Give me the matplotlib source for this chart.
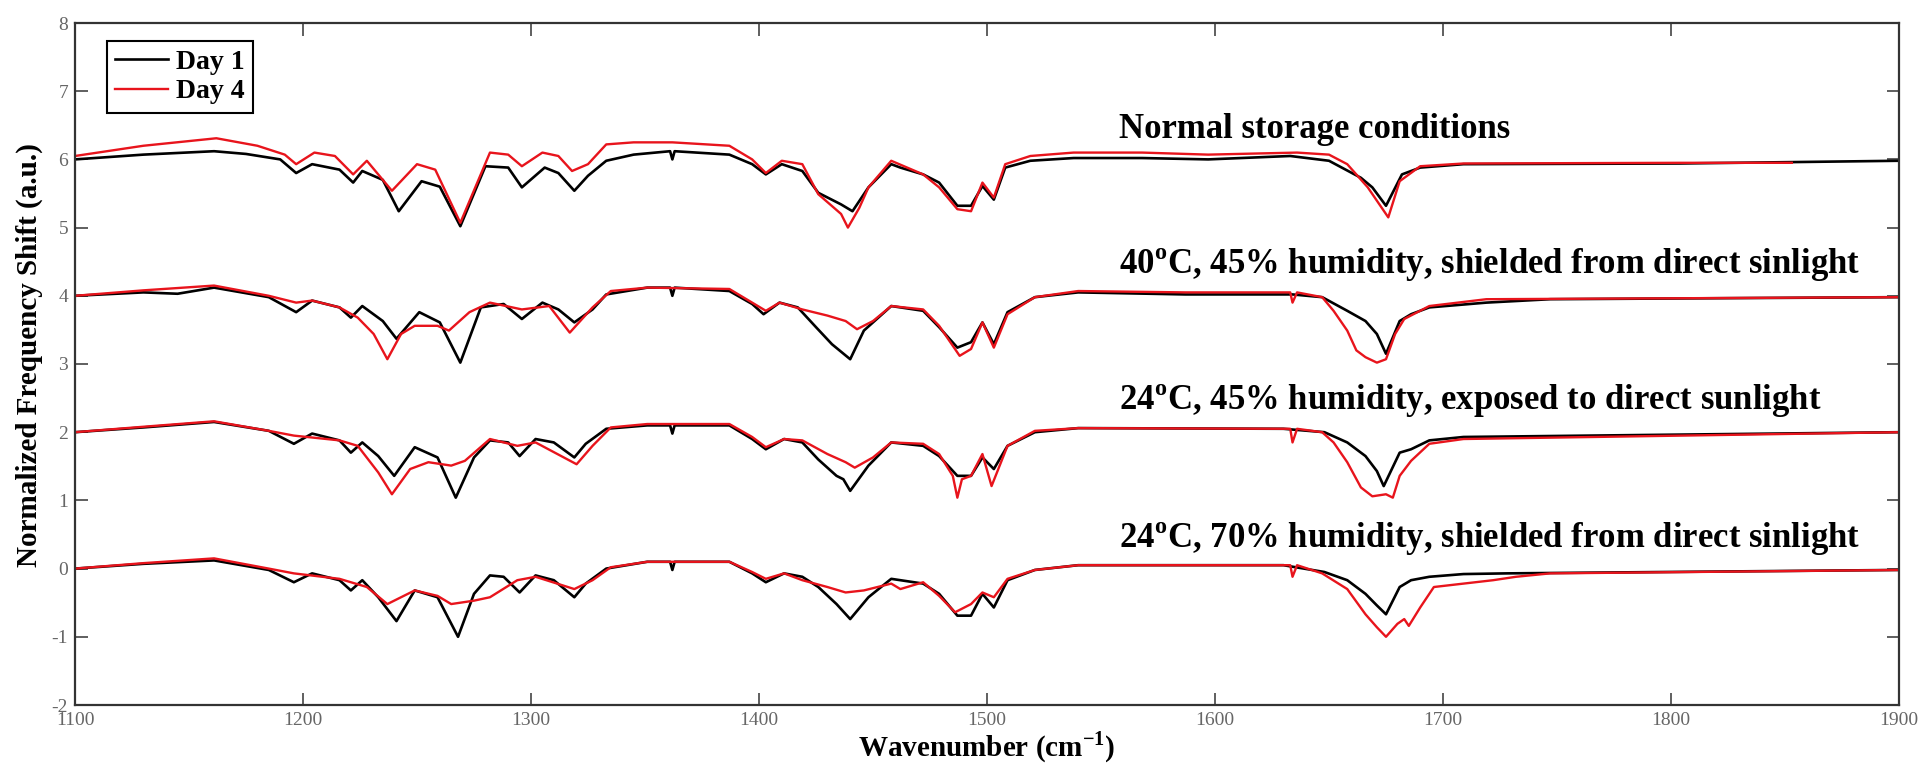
import numpy as np
import matplotlib
matplotlib.use("Agg")
import matplotlib.pyplot as plt

plt.rcParams['font.family'] = ['Liberation Serif', 'DejaVu Serif']
plt.rcParams['mathtext.fontset'] = 'custom'
plt.rcParams['mathtext.rm'] = 'Liberation Serif:bold'
plt.rcParams['mathtext.bf'] = 'Liberation Serif:bold'
plt.rcParams['axes.unicode_minus'] = False

# Normal storage conditions
wn_normal_d1 = [1100, 1130, 1161, 1175, 1190, 1197, 1204, 1216, 1222, 1226, 1235, 1242, 1252, 1260, 1269,
                1280, 1290, 1296, 1306, 1312, 1319, 1325, 1333, 1345, 1361, 1362, 1363, 1387, 1397, 1403,
                1410, 1419, 1426, 1436, 1441, 1448, 1458, 1462, 1472, 1479, 1487, 1493, 1498, 1503, 1508,
                1519, 1538, 1568, 1597, 1633, 1650, 1664, 1669, 1675, 1682, 1690, 1709, 1804, 1900]
val_normal_d1 = [6.00, 6.07, 6.12, 6.08, 6.00, 5.80, 5.93, 5.85, 5.66, 5.83, 5.70, 5.24, 5.68, 5.60, 5.02,
                 5.90, 5.88, 5.59, 5.88, 5.80, 5.54, 5.76, 5.98, 6.07, 6.12, 6.00, 6.12, 6.07, 5.93, 5.78,
                 5.93, 5.83, 5.51, 5.34, 5.24, 5.59, 5.93, 5.88, 5.78, 5.66, 5.32, 5.32, 5.61, 5.41, 5.88,
                 5.98, 6.02, 6.02, 6.00, 6.05, 5.98, 5.73, 5.59, 5.32, 5.78, 5.88, 5.93, 5.94, 5.98]
wn_normal_d4 = [1100, 1130, 1162, 1180, 1192, 1197, 1205, 1214, 1222, 1228, 1239, 1250, 1258, 1269, 1282,
                1290, 1296, 1305, 1312, 1318, 1325, 1333, 1345, 1362, 1387, 1397, 1403, 1410, 1419, 1426,
                1436, 1439, 1444, 1448, 1458, 1472, 1479, 1487, 1493, 1498, 1503, 1508, 1519, 1538, 1568,
                1597, 1636, 1650, 1658, 1667, 1676, 1681, 1690, 1709, 1804, 1853]
val_normal_d4 = [6.05, 6.20, 6.31, 6.20, 6.07, 5.93, 6.10, 6.05, 5.78, 5.98, 5.54, 5.93, 5.85, 5.07, 6.10,
                 6.07, 5.90, 6.10, 6.05, 5.83, 5.93, 6.22, 6.25, 6.25, 6.20, 6.00, 5.80, 5.98, 5.93, 5.49,
                 5.20, 5.00, 5.29, 5.59, 5.98, 5.78, 5.59, 5.27, 5.24, 5.66, 5.44, 5.93, 6.05, 6.10, 6.10,
                 6.07, 6.10, 6.07, 5.93, 5.59, 5.15, 5.68, 5.90, 5.94, 5.95, 5.95]

# 40 C, 45% humidity, shielded
wn_40_d1 = [1100, 1130, 1145, 1161, 1185, 1197, 1204, 1216, 1221, 1226, 1235, 1241, 1251, 1260, 1269,
            1278, 1288, 1296, 1305, 1312, 1319, 1327, 1333, 1351, 1361, 1362, 1363, 1387, 1397, 1402,
            1409, 1417, 1425, 1432, 1440, 1446, 1458, 1472, 1479, 1487, 1493, 1498, 1503, 1509, 1521,
            1540, 1587, 1634, 1647, 1658, 1666, 1671, 1675, 1681, 1686, 1694, 1719, 1747, 1900]
val_40_d1 = [4.00, 4.05, 4.03, 4.12, 3.98, 3.76, 3.93, 3.83, 3.68, 3.85, 3.63, 3.37, 3.76, 3.61, 3.02,
             3.83, 3.88, 3.66, 3.90, 3.80, 3.61, 3.80, 4.02, 4.12, 4.12, 4.00, 4.12, 4.07, 3.88, 3.73,
             3.90, 3.83, 3.54, 3.29, 3.07, 3.49, 3.85, 3.78, 3.54, 3.24, 3.32, 3.61, 3.29, 3.76, 3.98,
             4.05, 4.02, 4.02, 3.98, 3.78, 3.63, 3.44, 3.15, 3.63, 3.73, 3.83, 3.90, 3.95, 3.98]
wn_40_d4 = [1100, 1130, 1161, 1185, 1197, 1204, 1216, 1224, 1231, 1237, 1243, 1249, 1259, 1264, 1273,
            1282, 1296, 1308, 1317, 1327, 1335, 1351, 1387, 1397, 1403, 1409, 1419, 1430, 1438, 1443,
            1450, 1458, 1472, 1479, 1488, 1493, 1498, 1503, 1509, 1521, 1540, 1587, 1633, 1634, 1636,
            1647, 1652, 1658, 1662, 1666, 1671, 1675, 1679, 1683, 1694, 1719, 1900]
val_40_d4 = [4.00, 4.08, 4.15, 4.00, 3.90, 3.93, 3.83, 3.68, 3.44, 3.07, 3.44, 3.56, 3.56, 3.49, 3.76,
             3.90, 3.80, 3.85, 3.46, 3.83, 4.07, 4.12, 4.10, 3.90, 3.78, 3.90, 3.80, 3.71, 3.63, 3.51,
             3.63, 3.85, 3.80, 3.56, 3.12, 3.22, 3.61, 3.24, 3.73, 3.98, 4.07, 4.05, 4.05, 3.90, 4.05,
             3.98, 3.78, 3.49, 3.20, 3.10, 3.02, 3.07, 3.44, 3.66, 3.85, 3.95, 3.98]

# 24 C, 45% humidity, exposed
wn_24s_d1 = [1100, 1130, 1161, 1185, 1196, 1204, 1216, 1221, 1226, 1233, 1240, 1249, 1259, 1267, 1275,
             1282, 1290, 1295, 1302, 1310, 1319, 1324, 1333, 1351, 1361, 1362, 1363, 1387, 1397, 1403,
             1411, 1419, 1426, 1434, 1437, 1440, 1448, 1458, 1472, 1479, 1487, 1493, 1498, 1503, 1509,
             1521, 1540, 1630, 1648, 1658, 1666, 1671, 1674, 1681, 1686, 1694, 1709, 1900]
val_24s_d1 = [2.00, 2.07, 2.15, 2.02, 1.83, 1.98, 1.88, 1.70, 1.85, 1.65, 1.36, 1.78, 1.63, 1.04, 1.63,
              1.88, 1.85, 1.65, 1.90, 1.85, 1.63, 1.83, 2.05, 2.10, 2.10, 1.98, 2.10, 2.10, 1.90, 1.75,
              1.90, 1.85, 1.60, 1.36, 1.31, 1.14, 1.51, 1.85, 1.80, 1.65, 1.36, 1.36, 1.63, 1.46, 1.80,
              2.00, 2.06, 2.05, 2.00, 1.85, 1.65, 1.43, 1.21, 1.70, 1.75, 1.88, 1.93, 2.00]
wn_24s_d4 = [1100, 1130, 1161, 1185, 1196, 1216, 1224, 1233, 1239, 1247, 1255, 1265, 1271, 1282, 1294,
             1302, 1320, 1327, 1335, 1351, 1387, 1397, 1403, 1411, 1419, 1430, 1438, 1442, 1450, 1458,
             1472, 1479, 1485, 1487, 1489, 1493, 1498, 1502, 1509, 1521, 1540, 1633, 1634, 1636, 1647,
             1652, 1658, 1664, 1669, 1675, 1678, 1681, 1686, 1694, 1709, 1900]
val_24s_d4 = [2.00, 2.08, 2.16, 2.02, 1.95, 1.88, 1.80, 1.41, 1.09, 1.46, 1.56, 1.51, 1.58, 1.90, 1.80,
              1.85, 1.53, 1.80, 2.07, 2.12, 2.12, 1.93, 1.78, 1.90, 1.88, 1.68, 1.56, 1.48, 1.63, 1.85,
              1.83, 1.68, 1.36, 1.04, 1.31, 1.36, 1.68, 1.21, 1.80, 2.02, 2.06, 2.05, 1.85, 2.05, 2.00,
              1.85, 1.56, 1.19, 1.06, 1.09, 1.04, 1.36, 1.58, 1.83, 1.90, 2.00]

# 24 C, 70% humidity, shielded
wn_24h_d1 = [1100, 1130, 1161, 1185, 1196, 1204, 1216, 1221, 1226, 1233, 1241, 1249, 1259, 1268, 1275,
             1282, 1288, 1295, 1302, 1310, 1319, 1324, 1333, 1351, 1361, 1362, 1363, 1387, 1397, 1403,
             1411, 1419, 1426, 1434, 1440, 1448, 1458, 1462, 1472, 1479, 1487, 1493, 1498, 1503, 1509,
             1521, 1540, 1630, 1648, 1658, 1666, 1671, 1675, 1681, 1686, 1694, 1709, 1728, 1900]
val_24h_d1 = [0.00, 0.07, 0.12, -0.02, -0.20, -0.07, -0.17, -0.32, -0.17, -0.42, -0.77, -0.32, -0.42, -1.00, -0.37,
              -0.10, -0.12, -0.35, -0.10, -0.17, -0.42, -0.22, 0.00, 0.10, 0.10, -0.02, 0.10, 0.10, -0.07, -0.20,
              -0.07, -0.12, -0.27, -0.52, -0.74, -0.42, -0.15, -0.17, -0.22, -0.37, -0.69, -0.69, -0.37, -0.57, -0.17,
              -0.02, 0.05, 0.05, -0.05, -0.17, -0.37, -0.54, -0.67, -0.27, -0.17, -0.12, -0.08, -0.07, -0.02]
wn_24h_d4 = [1100, 1130, 1161, 1185, 1196, 1216, 1228, 1237, 1249, 1259, 1265, 1275, 1282, 1294, 1302,
             1319, 1327, 1335, 1351, 1387, 1397, 1403, 1411, 1419, 1430, 1438, 1446, 1458, 1462, 1472,
             1479, 1486, 1493, 1498, 1503, 1509, 1521, 1540, 1633, 1634, 1636, 1647, 1658, 1666, 1671,
             1675, 1680, 1683, 1685, 1690, 1696, 1709, 1722, 1732, 1747, 1900]
val_24h_d4 = [0.00, 0.08, 0.15, 0.00, -0.07, -0.15, -0.27, -0.52, -0.32, -0.40, -0.52, -0.47, -0.42, -0.17, -0.12,
              -0.30, -0.17, 0.02, 0.10, 0.10, -0.05, -0.15, -0.07, -0.17, -0.27, -0.35, -0.32, -0.22, -0.30, -0.20,
              -0.40, -0.64, -0.52, -0.35, -0.42, -0.15, -0.02, 0.05, 0.05, -0.12, 0.05, -0.07, -0.30, -0.67, -0.86,
              -1.00, -0.81, -0.74, -0.84, -0.57, -0.27, -0.22, -0.17, -0.12, -0.07, -0.02]

labels = ['Normal storage conditions',
          r'40$^{\mathbf{o}}$C, 45% humidity, shielded from direct sinlight',
          r'24$^{\mathbf{o}}$C, 45% humidity, exposed to direct sunlight',
          r'24$^{\mathbf{o}}$C, 70% humidity, shielded from direct sinlight']
label_y = [6.32, 4.32, 2.32, 0.30]

fig = plt.figure(figsize=(19.23, 7.67), dpi=100)
ax = fig.add_axes([75 / 1923, 1 - 705 / 767, 1824 / 1923, 682 / 767])

pairs = [(wn_normal_d1, val_normal_d1, wn_normal_d4, val_normal_d4),
         (wn_40_d1, val_40_d1, wn_40_d4, val_40_d4),
         (wn_24s_d1, val_24s_d1, wn_24s_d4, val_24s_d4),
         (wn_24h_d1, val_24h_d1, wn_24h_d4, val_24h_d4)]
for i, (x1, y1, x4, y4) in enumerate(pairs):
    ax.plot(x1, y1, color='black', lw=1.9, label='Day 1' if i == 0 else None)
    ax.plot(x4, y4, color='#e8141c', lw=1.7, label='Day 4' if i == 0 else None)

for txt, yy in zip(labels, label_y):
    ax.text(1558, yy, txt, fontsize=25, fontweight='bold', ha='left', va='baseline')

ax.set_xlim(1100, 1900)
ax.set_ylim(-2, 8)
ax.set_xticks(np.arange(1100, 1901, 100))
ax.set_yticks(np.arange(-2, 9, 1))
ax.tick_params(direction='in', top=True, right=True, length=9, width=1.2,
               labelsize=14, labelcolor='#666666', color='#444444', pad=5)
for s in ax.spines.values():
    s.set_linewidth(1.6)
    s.set_color('#333333')

ax.set_xlabel(r'Wavenumber (cm$^{\mathbf{-1}}$)', fontsize=21, fontweight='bold', labelpad=0)
ax.set_ylabel('Normalized Frequency Shift (a.u.)', fontsize=21, fontweight='bold')
ax.yaxis.set_label_coords(-0.0175, 0.513)

leg = ax.legend(loc='upper left', bbox_to_anchor=(0.0175, 0.9736), borderaxespad=0,
                fancybox=False, edgecolor='black', framealpha=1,
                prop={'weight': 'bold', 'size': 20}, handlelength=1.9, handletextpad=0.3,
                labelspacing=0.15, borderpad=0.3)
leg.get_frame().set_linewidth(1.5)

fig.savefig('out.png', dpi=100)
